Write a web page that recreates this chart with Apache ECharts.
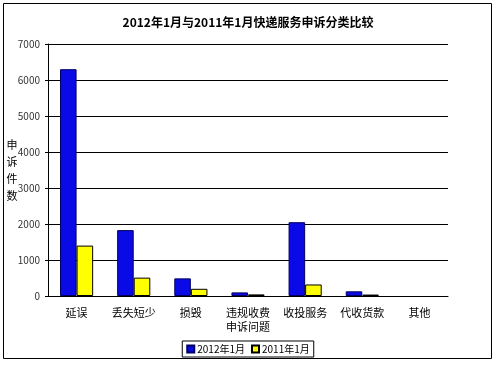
<!DOCTYPE html>
<html><head><meta charset="utf-8">
<script src="https://cdn.jsdelivr.net/npm/echarts@6/dist/echarts.min.js"></script>
<style>html,body{margin:0;padding:0;background:#fff}#c{width:496px;height:367px}</style>
</head><body><div id="c"></div>
<script>
var categories = ['延误','丢失短少','损毁','违规收费\n申诉问题','收投服务','代收货款','其他'];
var series2012 = [6300, 1830, 490, 100, 2050, 130, 0];
var series2011 = [1400, 510, 200, 45, 320, 40, 0];
var seriesNames = ['2012年1月','2011年1月'];
var yTicks = [0,1000,2000,3000,4000,5000,6000,7000];
var title = '2012年1月与2011年1月快递服务申诉分类比较';
var yName = '申诉件数';

function items(arr){
  return arr.map(function(v){ return v === 0 ? {value: v, itemStyle: {borderWidth: 0}} : v; });
}

var font = '"Noto Sans CJK SC", "Liberation Sans", sans-serif';
var chart = echarts.init(document.getElementById('c'));
chart.setOption({
  animation: false,
  textStyle: {fontFamily: font},
  title: {text: title, left: 'center', top: 11, textStyle: {fontSize: 12, fontWeight: 'bold', color: '#000', fontFamily: font}},
  graphic: [{type: 'rect', shape: {x: 3.5, y: 3.5, width: 488, height: 355}, style: {fill: 'none', stroke: '#000', lineWidth: 1}, silent: true}],
  legend: {
    bottom: 10, left: 'center', itemWidth: 7, itemHeight: 7, itemGap: 6,
    borderColor: '#000', borderWidth: 1, padding: [3, 4], borderRadius: 0,
    textStyle: {fontSize: 10, color: '#000', padding: [0, 0, 0, -2]},
    data: seriesNames.map(function(n){return {name: n, icon: 'rect'};})
  },
  grid: {left: 48, right: 48, top: 44, bottom: 71, containLabel: false, outerBoundsMode: 'none'},
  xAxis: {
    type: 'category', data: categories,
    axisLine: {lineStyle: {color: '#000'}},
    axisTick: {inside: true, length: 4, lineStyle: {color: '#000'}},
    axisLabel: {fontSize: 11, color: '#000', margin: 10, lineHeight: 14, interval: 0}
  },
  yAxis: {
    type: 'value', min: 0, max: 7000, interval: 1000,
    name: yName.split('').join('\n'), nameLocation: 'middle', nameRotate: 0, nameGap: 36,
    nameMoveOverlap: false,
    nameTextStyle: {fontSize: 11, color: '#000', lineHeight: 17, align: 'center', verticalAlign: 'middle'},
    axisLine: {show: true, lineStyle: {color: '#000'}},
    axisTick: {show: true, length: 3, lineStyle: {color: '#000'}},
    splitLine: {lineStyle: {color: '#000'}},
    axisLabel: {fontSize: 10, color: '#333', margin: 8,
      formatter: function(v){ return yTicks.indexOf(v) >= 0 ? String(v) : ''; }}
  },
  series: [
    {name: seriesNames[0], type: 'bar', data: items(series2012), barGap: '0%', barCategoryGap: '42%',
     itemStyle: {color: '#0a0ae6', borderColor: '#000060', borderWidth: 1}},
    {name: seriesNames[1], type: 'bar', data: items(series2011),
     itemStyle: {color: '#ffff00', borderColor: '#000', borderWidth: 1}}
  ]
});
</script></body></html>
